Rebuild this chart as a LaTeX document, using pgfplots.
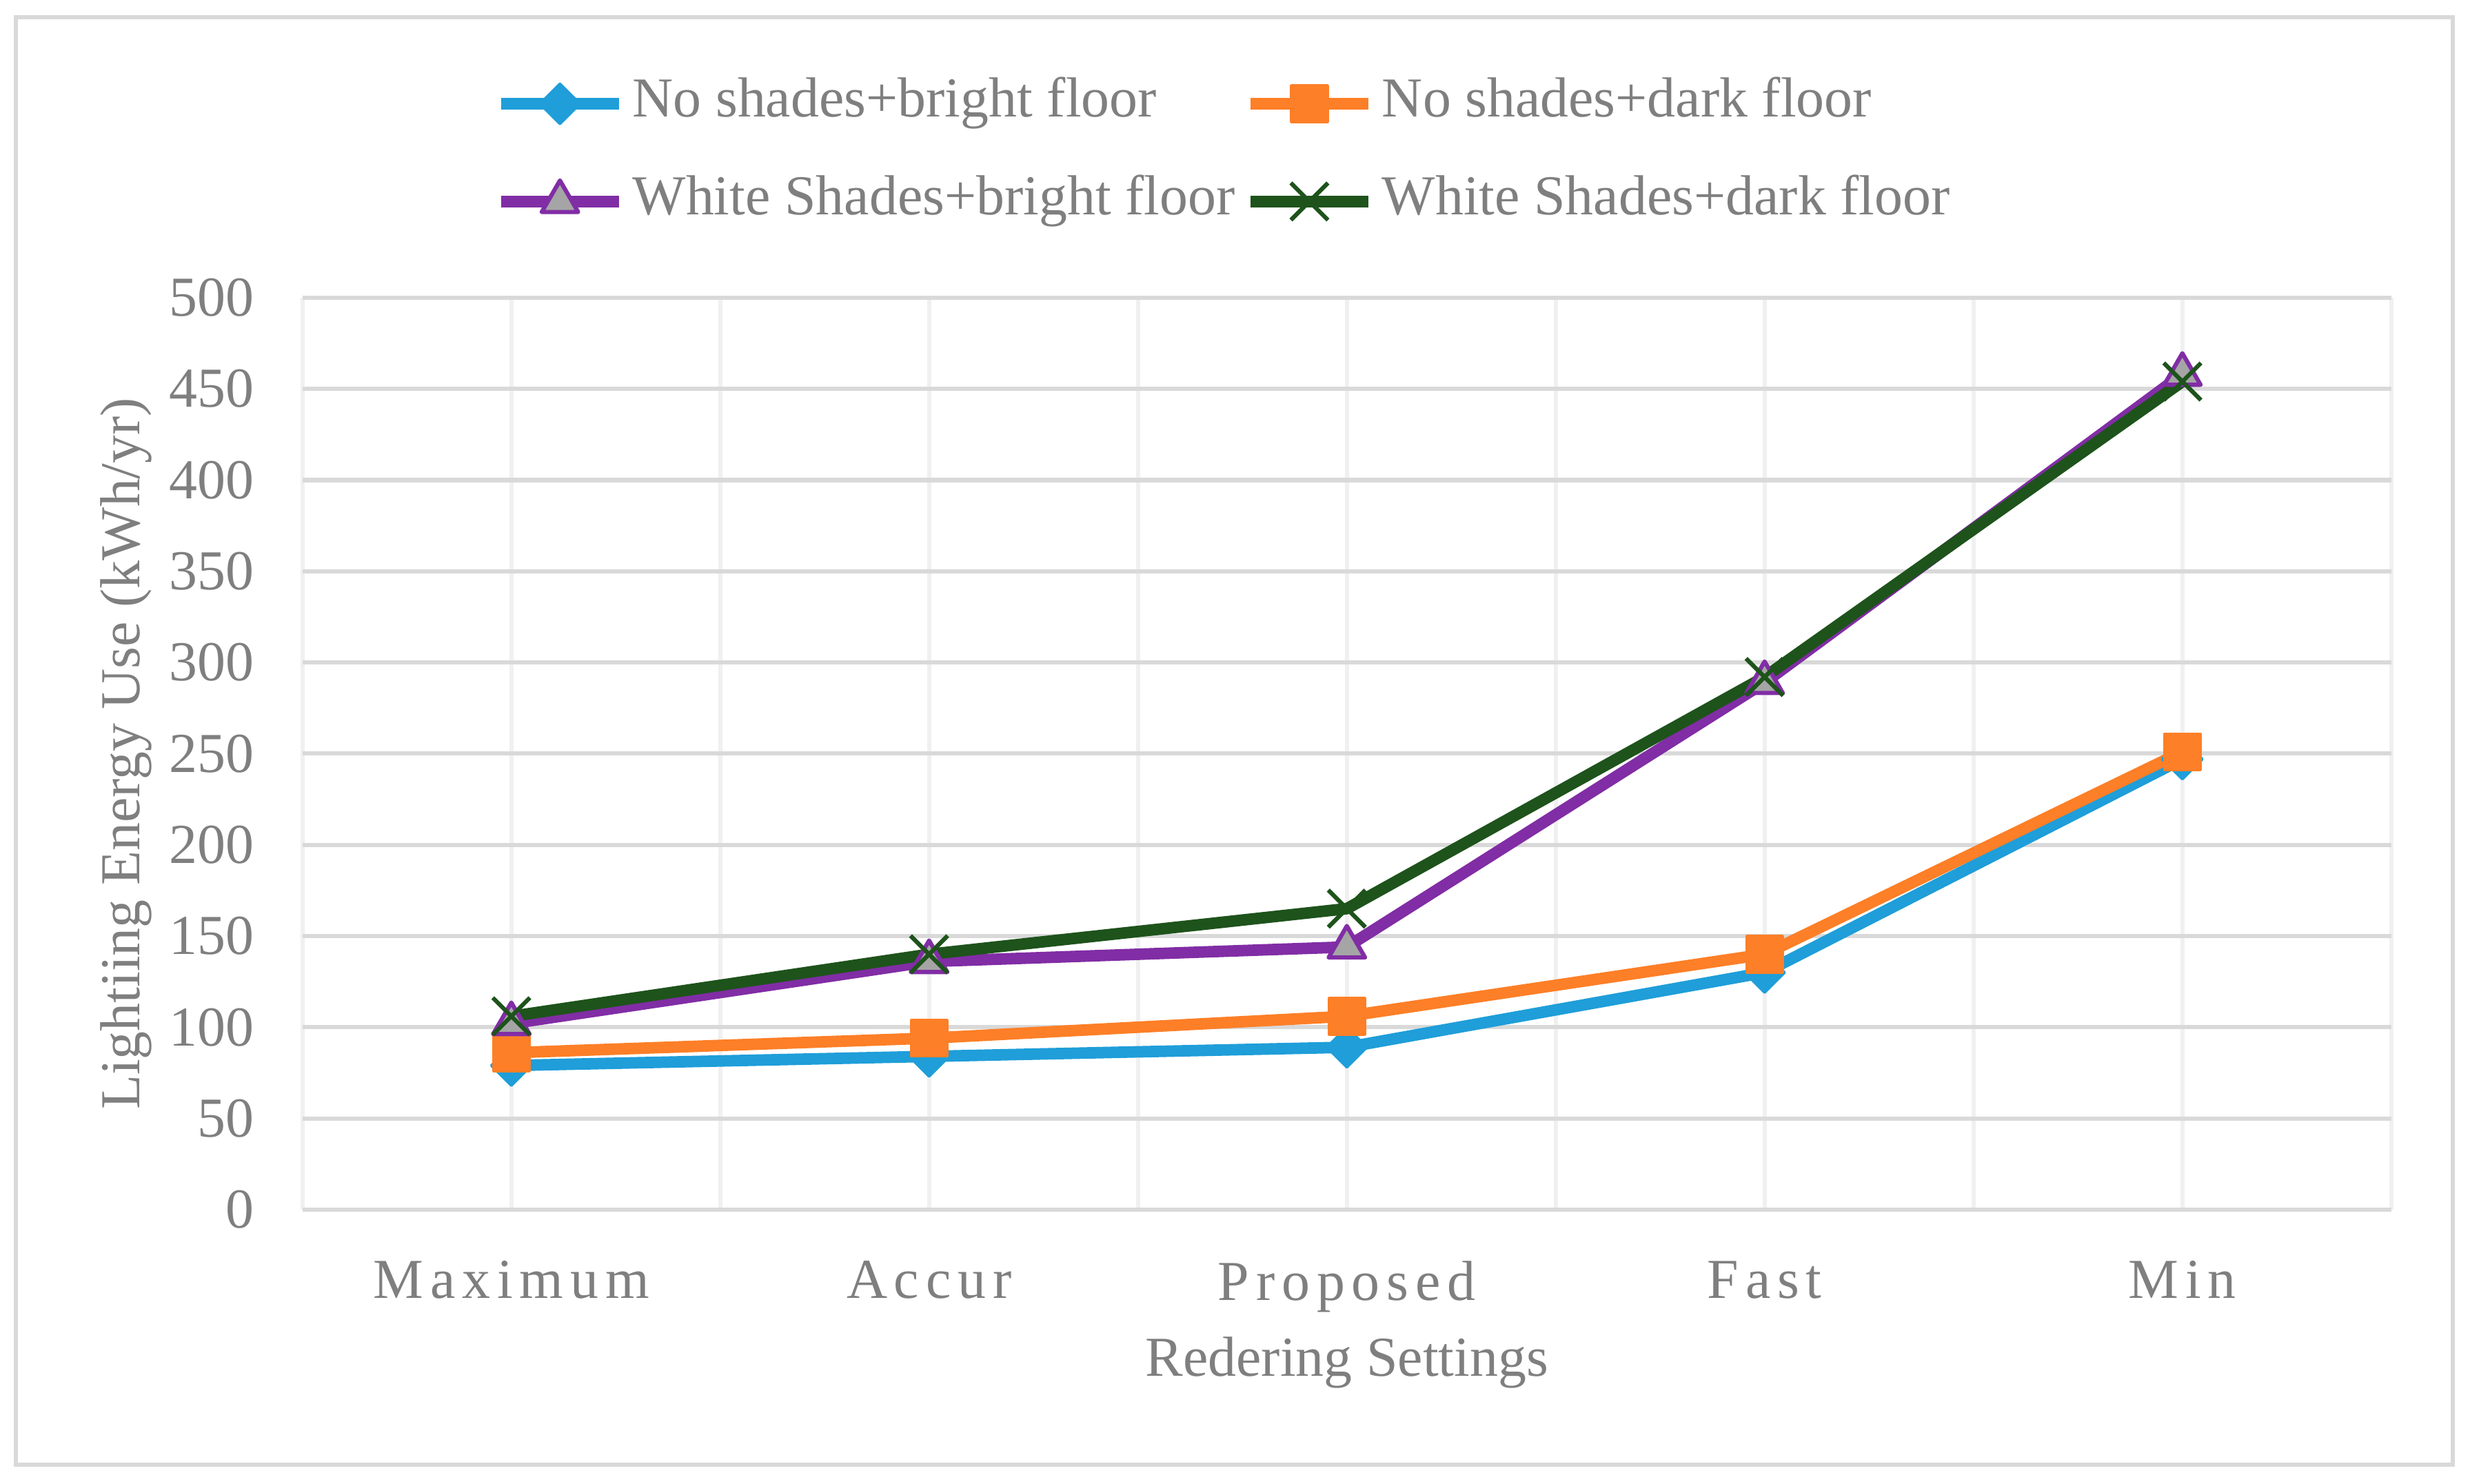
\documentclass[border=0pt]{standalone}
\usepackage{fontspec}
\setmainfont{Liberation Serif}
\usepackage{pgfplots}
\pgfplotsset{compat=1.18}

\definecolor{sblue}{RGB}{31,158,217}
\definecolor{sorange}{RGB}{253,127,39}
\definecolor{spurple}{RGB}{129,45,165}
\definecolor{sgreen}{RGB}{30,83,27}
\definecolor{tfill}{RGB}{165,165,165}
\definecolor{txt}{RGB}{127,127,127}
\definecolor{gridd}{RGB}{217,217,217}
\definecolor{gridl}{RGB}{240,240,240}

\newcommand{\chfont}{\fontsize{10.75}{13}\selectfont}

\begin{document}
\begin{tikzpicture}
\useasboundingbox (-57.6pt,-52.2pt) rectangle (412.8pt,230.4pt);
\draw[gridd, line width=0.8pt] (-54.6pt,-48.6pt) rectangle (409.5pt,227.1pt);
\begin{axis}[
    at={(0,0)}, anchor=south west,
    scale only axis,
    width=397.8pt, height=173.7pt,
    xmin=-0.5, xmax=4.5,
    ymin=0, ymax=500,
    xtick={0,1,2,3,4},
    xticklabels={Maximum, Accur, Proposed, Fast, Min},
    minor xtick={-0.5,0.5,1.5,2.5,3.5,4.5},
    ytick={0,50,...,500},
    xmajorgrids, ymajorgrids, xminorgrids,
    major grid style={gridd, line width=0.8pt},
    x grid style={gridl, line width=0.8pt},
    minor grid style={gridd, line width=0.8pt},
    axis line style={draw=none},
    tick style={draw=none},
    /pgf/number format/assume math mode=true,
    xticklabel style={font=\chfont\addfontfeature{LetterSpace=12}, text=txt, anchor=north, inner sep=0pt, yshift=-9.6pt},
    yticklabel style={font=\chfont, text=txt, anchor=east, inner sep=0pt, xshift=-9pt},
    xlabel={Redering Settings},
    ylabel={Lightiing Energy Use (kWh/yr)},
    label style={font=\chfont, text=txt},
    xlabel style={at={(axis description cs:0.5,0)}, anchor=center, yshift=-29.1pt},
    ylabel style={at={(axis description cs:0,0.5)}, anchor=center, yshift=33.6pt},
    clip=false,
    legend columns=2,
    legend style={at={(axis description cs:0.4405,1.159)}, anchor=center,
        draw=none, fill=none, font=\chfont, text=txt,
        nodes={inner sep=0pt, text height=7.5pt, text depth=2.5pt},
        row sep=8.6pt,
        /tikz/every odd column/.append style={column sep=1.5pt},
        /tikz/every even column/.append style={column sep=1.8pt}},
    legend cell align=left,
    legend image code/.code={\draw[mark repeat=2,mark phase=2] plot coordinates {(0pt,0pt) (11.25pt,0pt) (22.5pt,0pt)};},
]
\addplot[sblue, line width=2.2pt, line join=round, mark=square*, mark size=2.7pt, mark options={rotate=45, line width=0.5pt, fill=sblue}]
  coordinates {(0,79) (1,84) (2,89) (3,130) (4,247)};
\addlegendentry{No shades+bright floor}
\addplot[sorange, line width=2.2pt, line join=round, mark=square*, mark size=3.4pt, mark options={line width=0.6pt, fill=sorange}]
  coordinates {(0,86) (1,94) (2,106) (3,140) (4,251)};
\addlegendentry{No shades+dark floor}
\addplot[spurple, line width=2.2pt, line join=round, mark=triangle*, mark size=4pt, mark options={line width=0.8pt, fill=tfill, draw=spurple}]
  coordinates {(0,102) (1,136) (2,144) (3,289) (4,458)};
\addlegendentry{White Shades+bright floor}
\addplot[sgreen, line width=2.2pt, line join=round, mark=x, mark size=5pt, mark options={line width=0.8pt}]
  coordinates {(0,106) (1,140) (2,165) (3,292) (4,454)};
\addlegendentry{White Shades+dark floor}
\end{axis}
\end{tikzpicture}
\end{document}
